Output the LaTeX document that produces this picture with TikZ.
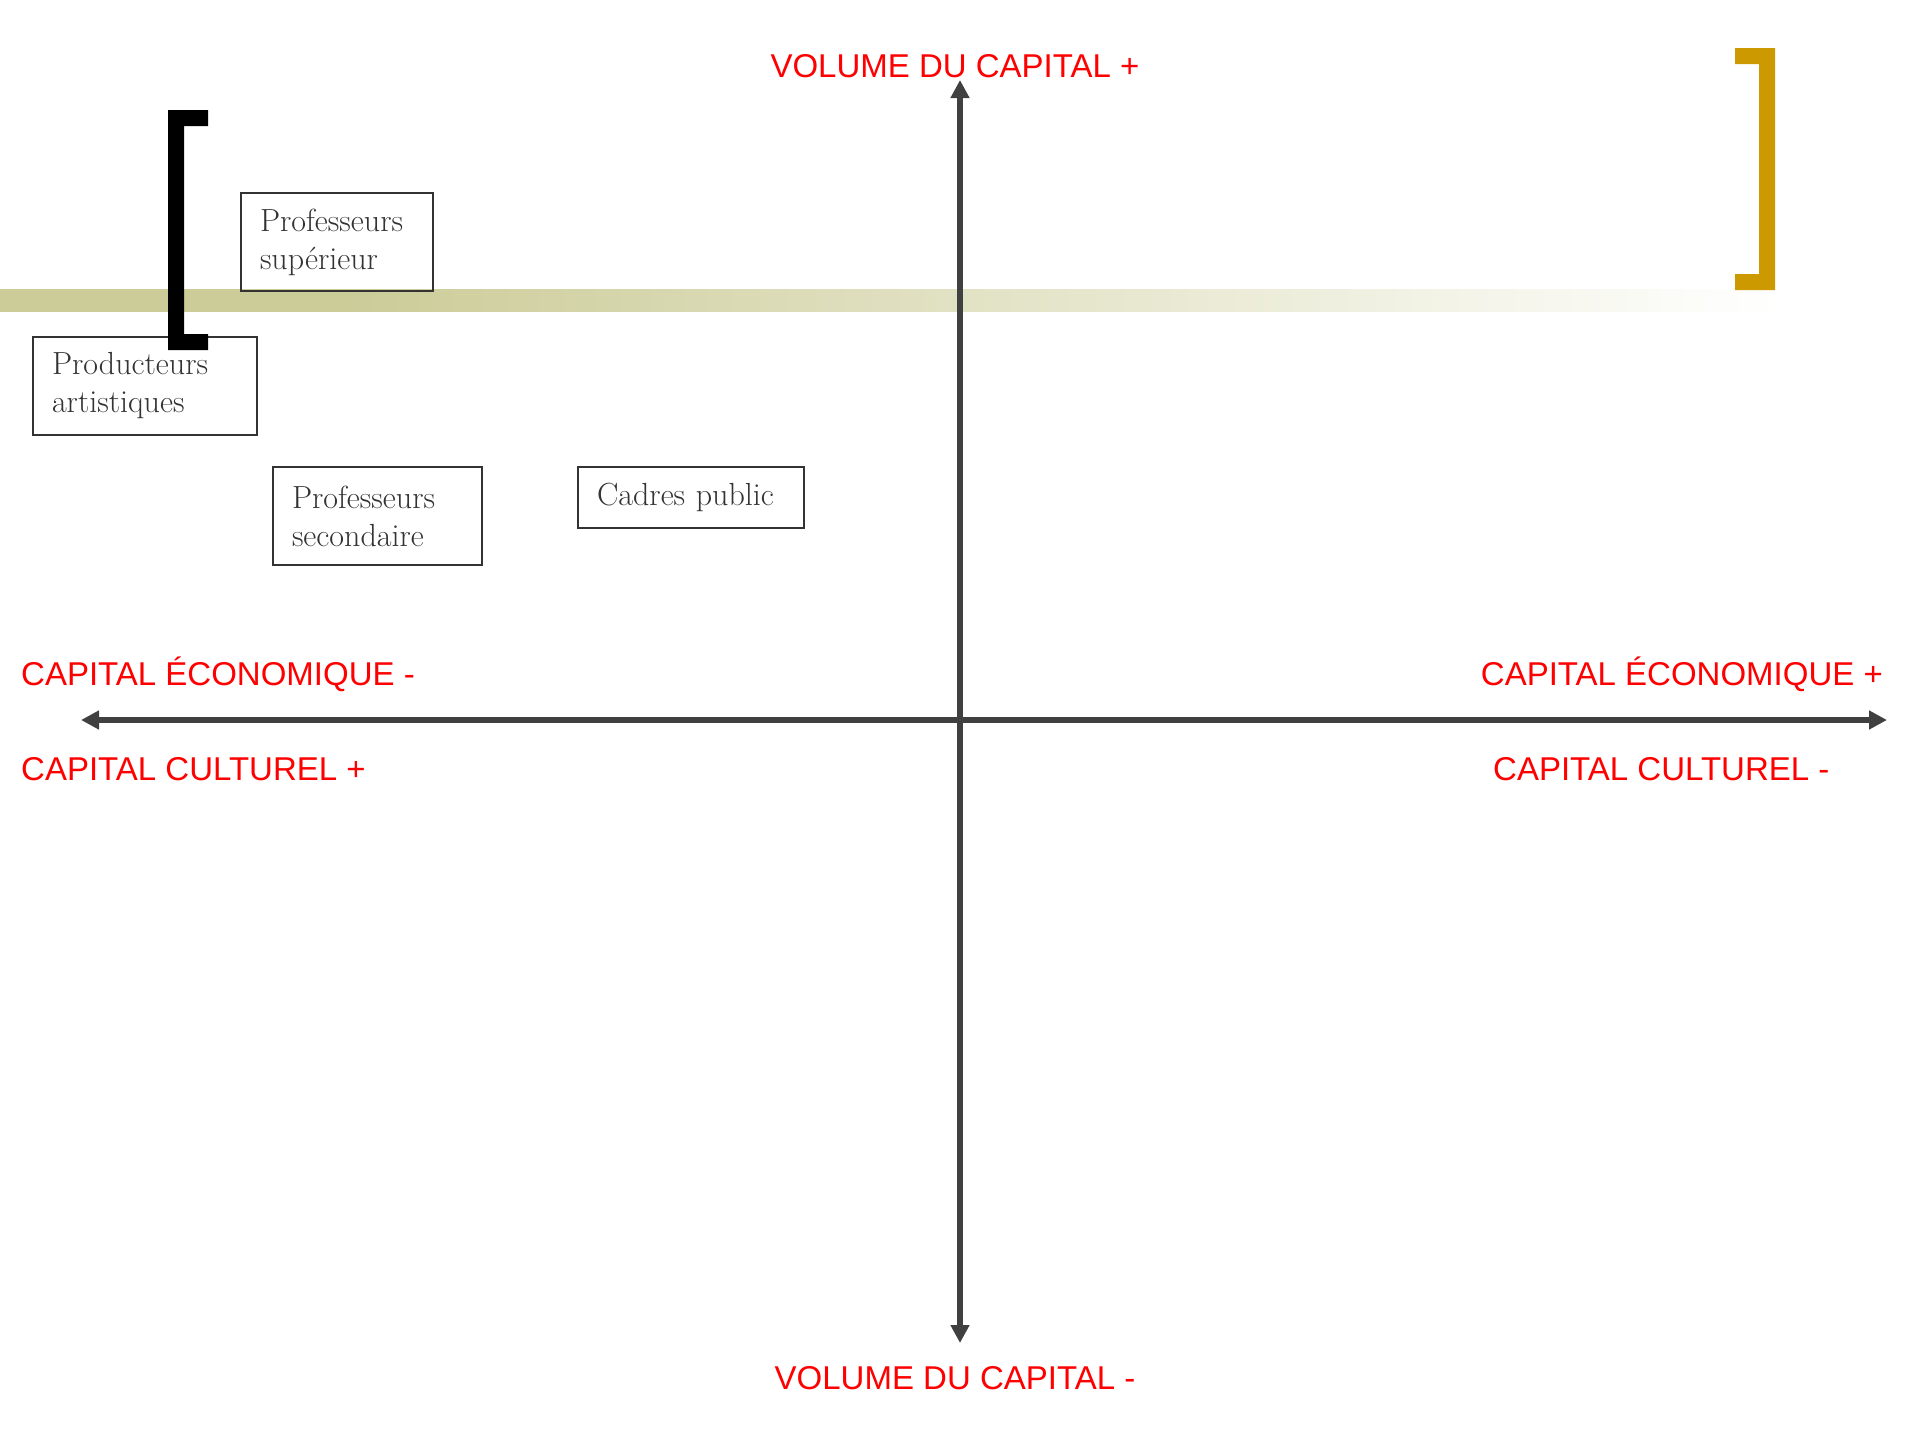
\documentclass[tikz,border=0pt]{standalone}
\usepackage{fontspec}
\usepackage{xcolor}
\usepackage{tikz}
\usetikzlibrary{arrows.meta,positioning}
\newfontfamily\polefont{Liberation Sans}
\definecolor{bandolive}{HTML}{CCCC99}
\definecolor{bracketgold}{HTML}{CC9900}
\definecolor{axisgray}{HTML}{404040}
\pgfdeclarehorizontalshading{bande}{100bp}{color(0bp)=(bandolive); color(25bp)=(bandolive); color(35bp)=(bandolive); color(75bp)=(white); color(100bp)=(white)}

\begin{document}
\begin{tikzpicture}[x=1pt,y=-1pt,
	poste/.style={draw=black!80, line width=2pt, text=black!80, align=left, anchor=north west,
		inner xsep=19pt, inner ysep=14pt, font=\fontsize{32}{38}\selectfont},
	pole/.style={text=red, inner sep=0pt, font=\polefont\fontsize{33}{40}\selectfont},
	axe/.style={axisgray, line width=6pt, {Triangle[width=18pt,length=18pt]}-{Triangle[width=18pt,length=18pt]}}]
	
	    \useasboundingbox (0,0) rectangle (1920,1440);
	
	    % bande
	    \shade[shading=bande] (0,289) rectangle (1780,311);
	
	    % axes
	    \coordinate (haut) at (960,80);
	    \coordinate (bas) at (960,1343);
	    \coordinate (gauche) at (81,720);
	    \coordinate (droite) at (1887,720);
	    \draw[axe] (gauche) -- (droite);
	    \draw[axe] (bas) -- (haut);
	
	    \node[pole, anchor=base] (volplus) at (955,77) {VOLUME DU CAPITAL +};
	    \node[pole, anchor=base] (volmoins) at (955,1389) {VOLUME DU CAPITAL -};
	    \node[pole, anchor=base west] (ecomoins) at (21,685) {CAPITAL ÉCONOMIQUE -};
	    \node[pole, anchor=base west] (cultplus) at (21,780) {CAPITAL CULTUREL +};
	    \node[pole, anchor=base east] (ecoplus) at (1883,685) {CAPITAL ÉCONOMIQUE +};
	    \node[pole, anchor=base west] (cultmoins) at (1493,780) {CAPITAL CULTUREL -};
	
	    % positions
	    \node[poste, text width=154pt, minimum height=98pt] (profsup) at (240,192) {Professeurs\\supérieur};
	    \node[poste, text width=186pt, minimum height=98pt] (prodart) at (32,336) {Producteurs\\artistiques};
	    \node[poste, text width=171pt, minimum height=98pt] (profsec) at (272,466) {Professeurs\\secondaire};
	    \node[poste, text width=188pt, minimum height=61pt] (cadres) at (577,466) {Cadres public};
	
	    % crochets
	    \fill[black] (208,110) -- (168,110) -- (168,350) -- (208,350) -- (208,334) -- (184,334) -- (184,126) -- (208,126) -- cycle;
	    \fill[bracketgold] (1735,48) -- (1775,48) -- (1775,290) -- (1735,290) -- (1735,274) -- (1759,274) -- (1759,64) -- (1735,64) -- cycle;
	
	\end{tikzpicture}
\end{document}
